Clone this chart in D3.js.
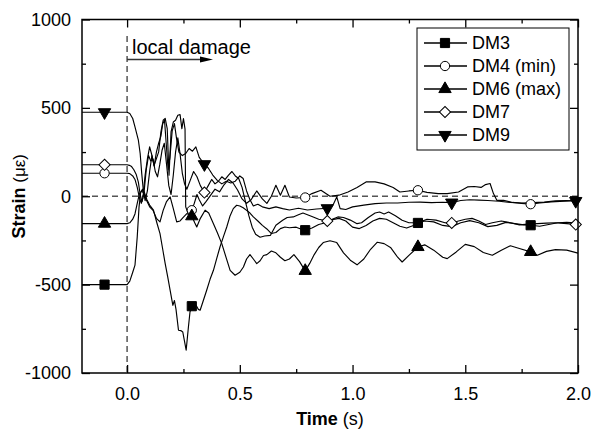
<!DOCTYPE html>
<html>
<head>
<meta charset="utf-8">
<script src="https://cdn.jsdelivr.net/npm/d3@7"></script>
<style>
  html, body { margin: 0; padding: 0; background: #fff; }
  svg { display: block; font-family: Arial, "Liberation Sans", sans-serif; }
</style>
</head>
<body>
<svg id="chart" width="594" height="435"></svg>
<script>
// Strain histories of the five gauges, [time (s), strain (µε)]
const dm3 = [[-0.2,-500],[-0.1,-500],[0,-500],[0.012,-480],[0.025,-430],[0.035,-390],[0.045,-230],[0.053,-60],[0.06,20],[0.068,40],[0.076,25],[0.088,-20],[0.1,-50],[0.117,-79],[0.132,-150],[0.146,-211],[0.158,-300],[0.169,-381],[0.18,-455],[0.191,-532],[0.203,-617],[0.21,-590],[0.217,-640],[0.228,-758],[0.238,-760],[0.247,-768],[0.262,-871],[0.272,-740],[0.279,-655],[0.287,-622],[0.297,-615],[0.306,-617],[0.316,-640],[0.324,-645],[0.336,-598],[0.353,-532],[0.368,-470],[0.383,-419],[0.398,-350],[0.412,-287],[0.427,-230],[0.442,-174],[0.457,-110],[0.471,-70],[0.486,-51],[0.5,-55],[0.515,-65],[0.53,-80],[0.545,-95],[0.56,-117],[0.58,-140],[0.6,-165],[0.62,-185],[0.64,-211],[0.66,-205],[0.68,-183],[0.7,-174],[0.72,-178],[0.75,-175],[0.77,-185],[0.79,-192],[0.82,-180],[0.85,-160],[0.88,-150],[0.91,-132],[0.94,-125],[0.97,-140],[1.0,-175],[1.03,-183],[1.06,-165],[1.09,-140],[1.12,-125],[1.15,-130],[1.18,-150],[1.21,-170],[1.24,-180],[1.27,-165],[1.29,-151],[1.32,-140],[1.36,-145],[1.4,-165],[1.44,-172],[1.48,-150],[1.52,-138],[1.56,-150],[1.6,-172],[1.64,-165],[1.68,-148],[1.72,-155],[1.76,-162],[1.79,-164],[1.83,-170],[1.87,-160],[1.91,-150],[1.95,-148],[2.0,-152]];

const dm4 = [[-0.2,130],[-0.1,130],[0,130],[0.012,128],[0.025,115],[0.035,95],[0.045,50],[0.055,-10],[0.063,-40],[0.07,-10],[0.08,120],[0.09,210],[0.1,279],[0.11,232],[0.12,175],[0.13,213],[0.14,251],[0.15,364],[0.16,430],[0.169,440],[0.178,383],[0.186,119],[0.195,364],[0.205,420],[0.215,430],[0.225,458],[0.235,462],[0.243,383],[0.25,440],[0.257,380],[0.26,-60],[0.27,-95],[0.28,-85],[0.287,-79],[0.298,-40],[0.31,10],[0.32,-20],[0.335,-55],[0.35,-30],[0.37,5],[0.39,40],[0.41,25],[0.43,65],[0.45,95],[0.47,75],[0.49,35],[0.51,-15],[0.53,-40],[0.55,-20],[0.575,30],[0.6,-15],[0.62,-40],[0.64,0],[0.66,62],[0.68,6],[0.7,62],[0.72,-4],[0.75,-10],[0.79,-7],[0.82,15],[0.86,34],[0.9,0],[0.94,6],[0.98,24],[1.02,50],[1.06,81],[1.1,81],[1.14,70],[1.18,50],[1.21,24],[1.25,30],[1.29,34],[1.33,22],[1.38,15],[1.42,15],[1.47,24],[1.51,53],[1.54,55],[1.57,50],[1.59,66],[1.61,72],[1.625,15],[1.64,-23],[1.67,-23],[1.71,-35],[1.75,-40],[1.79,-45],[1.83,-38],[1.88,-32],[1.94,-28],[2.0,-23]];

const dm6 = [[-0.2,-155],[-0.1,-155],[0,-155],[0.012,-150],[0.025,-130],[0.035,-100],[0.045,-40],[0.055,15],[0.065,30],[0.075,15],[0.085,-20],[0.1,-60],[0.115,-80],[0.13,-125],[0.146,-145],[0.16,-80],[0.175,-30],[0.191,-4],[0.205,-70],[0.22,-145],[0.235,-140],[0.25,-118],[0.265,-98],[0.287,-113],[0.3,-150],[0.309,-174],[0.325,-125],[0.346,-79],[0.362,-95],[0.383,-155],[0.4,-205],[0.42,-268],[0.44,-350],[0.457,-419],[0.479,-447],[0.5,-430],[0.516,-400],[0.53,-355],[0.545,-330],[0.56,-355],[0.575,-381],[0.59,-365],[0.605,-335],[0.62,-330],[0.64,-310],[0.66,-320],[0.68,-345],[0.7,-365],[0.72,-355],[0.74,-330],[0.765,-370],[0.79,-422],[0.81,-380],[0.83,-330],[0.85,-290],[0.87,-262],[0.9,-252],[0.93,-262],[0.96,-320],[0.99,-362],[1.02,-388],[1.05,-355],[1.08,-300],[1.11,-260],[1.14,-268],[1.17,-292],[1.2,-345],[1.22,-372],[1.25,-335],[1.29,-287],[1.32,-275],[1.36,-305],[1.4,-345],[1.42,-353],[1.46,-315],[1.5,-272],[1.54,-285],[1.58,-318],[1.62,-334],[1.66,-305],[1.7,-280],[1.74,-296],[1.79,-315],[1.82,-334],[1.86,-312],[1.9,-302],[1.95,-305],[2.0,-322]];

const dm7 = [[-0.2,178],[-0.1,178],[0,178],[0.01,175],[0.02,168],[0.03,150],[0.04,125],[0.05,80],[0.058,10],[0.066,-30],[0.075,20],[0.085,150],[0.095,230],[0.105,200],[0.115,210],[0.125,140],[0.135,110],[0.145,180],[0.155,260],[0.165,300],[0.175,180],[0.185,60],[0.195,10],[0.205,120],[0.215,250],[0.225,330],[0.235,240],[0.245,130],[0.255,70],[0.265,40],[0.28,90],[0.295,140],[0.31,110],[0.325,60],[0.343,21],[0.36,60],[0.375,95],[0.39,70],[0.405,85],[0.42,110],[0.435,95],[0.45,120],[0.465,140],[0.48,115],[0.495,100],[0.51,50],[0.525,-30],[0.54,-110],[0.555,-175],[0.57,-215],[0.59,-232],[0.61,-225],[0.636,-221],[0.66,-164],[0.69,-136],[0.71,-120],[0.737,-117],[0.76,-105],[0.78,-95],[0.8,-105],[0.82,-115],[0.85,-130],[0.888,-140],[0.91,-130],[0.935,-117],[0.96,-120],[0.99,-135],[1.02,-155],[1.04,-150],[1.07,-120],[1.1,-95],[1.12,-89],[1.14,-100],[1.16,-89],[1.19,-110],[1.22,-136],[1.25,-150],[1.29,-150],[1.33,-130],[1.37,-135],[1.41,-150],[1.44,-151],[1.47,-140],[1.5,-130],[1.53,-125],[1.56,-140],[1.59,-160],[1.62,-150],[1.66,-140],[1.7,-150],[1.74,-162],[1.78,-158],[1.82,-155],[1.86,-152],[1.9,-150],[1.95,-155],[1.99,-160],[2.0,-160]];

const dm9 = [[-0.2,475],[-0.1,475],[0,475],[0.012,468],[0.025,440],[0.035,392],[0.05,317],[0.058,242],[0.065,128],[0.072,34],[0.08,-25],[0.09,30],[0.1,140],[0.11,230],[0.12,170],[0.13,250],[0.14,300],[0.15,340],[0.158,410],[0.166,430],[0.174,290],[0.182,150],[0.19,220],[0.2,370],[0.21,411],[0.22,320],[0.23,250],[0.245,230],[0.26,242],[0.275,270],[0.29,255],[0.305,279],[0.32,220],[0.343,181],[0.36,160],[0.38,120],[0.4,90],[0.42,70],[0.44,85],[0.46,75],[0.48,85],[0.5,115],[0.515,100],[0.53,30],[0.545,-20],[0.56,-55],[0.58,-45],[0.6,-60],[0.63,-70],[0.66,-60],[0.69,-70],[0.72,-78],[0.76,-68],[0.8,-78],[0.84,-72],[0.888,-68],[0.915,-45],[0.93,-4],[0.945,-70],[0.97,-75],[1.0,-60],[1.05,-50],[1.1,-42],[1.15,-38],[1.2,-38],[1.25,-34],[1.3,-33],[1.35,-36],[1.4,-34],[1.44,-36],[1.48,-24],[1.52,-20],[1.56,-22],[1.6,-24],[1.65,-28],[1.7,-35],[1.75,-38],[1.8,-36],[1.85,-33],[1.9,-26],[1.95,-24],[1.99,-27],[2.0,-28]];

// Times at which the symbols sit on each curve
const markTimesA = [-0.1, 0.287, 0.79, 1.29, 1.79];
const markTimesB = [-0.1, 0.343, 0.888, 1.44, 1.99];

const seriesNames = ["DM3", "DM4 (min)", "DM6 (max)", "DM7", "DM9"];
const seriesData = [dm3, dm4, dm6, dm7, dm9];
const seriesMarks = [markTimesA, markTimesA, markTimesA, markTimesB, markTimesB];

const xMajor = [0, 0.5, 1.0, 1.5, 2.0];
const xMinor = [0.25, 0.75, 1.25, 1.75];
const yMajor = [-1000, -500, 0, 500, 1000];
const yMinor = [-750, -250, 250, 750];

// symbol shapes: [d3 symbol type, size, rotation, filled]
const symbolSpecs = [
  [d3.symbolSquare, 84, 0, true],
  [d3.symbolCircle, 68, 0, false],
  [d3.symbolTriangle, 66, 0, true],
  [d3.symbolSquare, 62, 45, false],
  [d3.symbolTriangle, 66, 180, true]
];

const L = 82, R = 578, T = 19.5, B = 373;
const x = d3.scaleLinear().domain([-0.2, 2.0]).range([L, R]);
const y = d3.scaleLinear().domain([-1000, 1000]).range([B, T]);

const svg = d3.select("#chart");
const fontMain = 18;

// zero-strain reference and the damage onset
svg.append("line")
  .attr("x1", L).attr("x2", R).attr("y1", y(0)).attr("y2", y(0))
  .attr("stroke", "#555").attr("stroke-width", 1.5).attr("stroke-dasharray", "6,4");
svg.append("line")
  .attr("x1", x(0)).attr("x2", x(0)).attr("y1", 36).attr("y2", B)
  .attr("stroke", "#555").attr("stroke-width", 1.5).attr("stroke-dasharray", "6,4");

// curves
const line = d3.line().x(d => x(d[0])).y(d => y(d[1]));
svg.append("defs").append("clipPath").attr("id", "plotclip")
  .append("rect").attr("x", L).attr("y", T).attr("width", R - L).attr("height", B - T);
const plot = svg.append("g").attr("clip-path", "url(#plotclip)");
seriesData.forEach(s => {
  plot.append("path").datum(s).attr("d", line)
    .attr("fill", "none").attr("stroke", "#000").attr("stroke-width", 1.15)
    .attr("stroke-linejoin", "round");
});

// value of a series at time t (linear between recorded samples)
function valueAt(s, t) {
  const i = d3.bisector(d => d[0]).left(s, t);
  if (i <= 0) return s[0][1];
  if (i >= s.length) return s[s.length - 1][1];
  const a = s[i - 1], b = s[i];
  return a[1] + (b[1] - a[1]) * (t - a[0]) / (b[0] - a[0]);
}

function drawSymbol(g, k, px, py) {
  const [type, size, rot, filled] = symbolSpecs[k];
  g.append("path")
    .attr("d", d3.symbol().type(type).size(size)())
    .attr("transform", `translate(${px},${py}) rotate(${rot})`)
    .attr("fill", filled ? "#000" : "#fff")
    .attr("stroke", "#000").attr("stroke-width", 1);
}

const markG = svg.append("g");
seriesData.forEach((s, k) => {
  seriesMarks[k].forEach(t => drawSymbol(markG, k, x(t), y(valueAt(s, t))));
});

// axes: ticks point inward on all four sides
function styleAxis(g) {
  g.select(".domain").remove();
  g.selectAll(".tick line").attr("stroke", "#000").attr("stroke-width", 1.3);
  g.selectAll("text").attr("font-size", fontMain).attr("fill", "#000")
    .attr("font-family", 'Arial, "Liberation Sans", sans-serif');
}
svg.append("g").attr("transform", `translate(0,${B})`)
  .call(d3.axisBottom(x).tickValues(xMajor).tickSize(-8).tickPadding(14).tickFormat(d3.format(".1f")))
  .call(styleAxis);
svg.append("g").attr("transform", `translate(0,${B})`)
  .call(d3.axisBottom(x).tickValues(xMinor).tickSize(-4).tickFormat(""))
  .call(styleAxis);
svg.append("g").attr("transform", `translate(0,${T})`)
  .call(d3.axisTop(x).tickValues(xMajor).tickSize(-8).tickFormat(""))
  .call(styleAxis);
svg.append("g").attr("transform", `translate(0,${T})`)
  .call(d3.axisTop(x).tickValues(xMinor).tickSize(-4).tickFormat(""))
  .call(styleAxis);
svg.append("g").attr("transform", `translate(${L},0)`)
  .call(d3.axisLeft(y).tickValues(yMajor).tickSize(-8).tickPadding(11).tickFormat(d => String(d)))
  .call(styleAxis);
svg.append("g").attr("transform", `translate(${L},0)`)
  .call(d3.axisLeft(y).tickValues(yMinor).tickSize(-4).tickFormat(""))
  .call(styleAxis);
svg.append("g").attr("transform", `translate(${R},0)`)
  .call(d3.axisRight(y).tickValues(yMajor).tickSize(-8).tickFormat(""))
  .call(styleAxis);
svg.append("g").attr("transform", `translate(${R},0)`)
  .call(d3.axisRight(y).tickValues(yMinor).tickSize(-4).tickFormat(""))
  .call(styleAxis);

svg.append("rect").attr("x", L).attr("y", T).attr("width", R - L).attr("height", B - T)
  .attr("fill", "none").attr("stroke", "#000").attr("stroke-width", 1.5);

// axis titles
const xt = svg.append("text").attr("x", (L + R) / 2).attr("y", 425)
  .attr("text-anchor", "middle").attr("font-size", fontMain);
xt.append("tspan").attr("font-weight", "bold").text("Time");
xt.append("tspan").text(" (s)");

const yt = svg.append("text").attr("transform", `translate(25,${(T + B) / 2}) rotate(-90)`)
  .attr("text-anchor", "middle").attr("font-size", fontMain);
yt.append("tspan").attr("font-weight", "bold").text("Strain");
yt.append("tspan").attr("font-size", 17).text(" (με)");

// damage annotation
svg.append("text").attr("x", 132).attr("y", 54).attr("font-size", 20).text("local damage");
svg.append("line").attr("x1", x(0)).attr("x2", 202).attr("y1", 59.5).attr("y2", 59.5)
  .attr("stroke", "#333").attr("stroke-width", 1.5);
svg.append("path").attr("d", "M200,56.5 L213,59.5 L200,62.5 Z").attr("fill", "#000");

// legend
const lg = svg.append("g");
lg.append("rect").attr("x", 417).attr("y", 28).attr("width", 152).attr("height", 122)
  .attr("fill", "#fff").attr("stroke", "#000").attr("stroke-width", 1);
seriesNames.forEach((name, k) => {
  const cy = 43 + k * 23;
  lg.append("line").attr("x1", 424).attr("x2", 467).attr("y1", cy).attr("y2", cy)
    .attr("stroke", "#000").attr("stroke-width", 1.3);
  drawSymbol(lg, k, 445, cy);
  lg.append("text").attr("x", 472).attr("y", cy).attr("dy", "0.35em")
    .attr("font-size", fontMain).text(name);
});
</script>
</body>
</html>
